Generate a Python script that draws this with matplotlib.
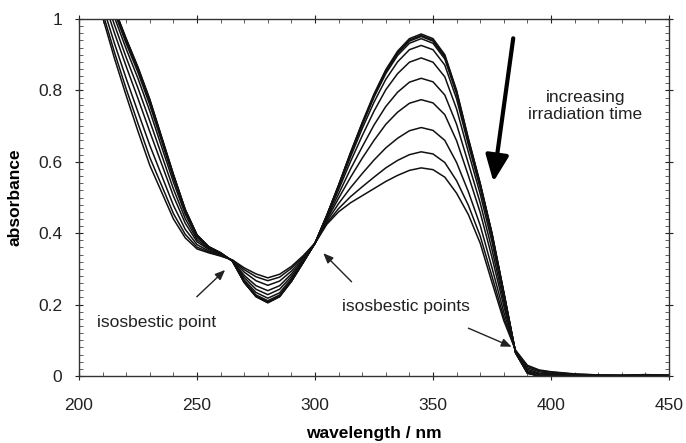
import matplotlib
matplotlib.use("Agg")
import matplotlib.pyplot as plt
from matplotlib.ticker import MultipleLocator, FuncFormatter

plt.rcParams['font.family'] = ['Liberation Sans', 'DejaVu Sans']

wavelength = [205, 210, 215, 220, 225, 230, 235, 240, 245, 250, 255, 260, 265, 270, 275,
              280, 285, 290, 295, 300, 305, 310, 315, 320, 325, 330, 335, 340, 345, 350,
              355, 360, 365, 370, 375, 380, 385, 390, 395, 400, 410, 420, 430, 440, 450]

# absorbance spectra, one list per irradiation time (0 = before irradiation)
spec_00 = [1.200, 1.115, 1.030, 0.945, 0.865, 0.775, 0.670, 0.565, 0.467, 0.395, 0.362, 0.345, 0.322, 0.262, 0.222,
           0.205, 0.222, 0.265, 0.318, 0.372, 0.450, 0.535, 0.625, 0.710, 0.790, 0.858, 0.910, 0.945, 0.958, 0.945,
           0.900, 0.800, 0.665, 0.540, 0.400, 0.235, 0.065, 0.008, 0.000, 0.000, 0.000, 0.000, 0.000, 0.001, 0.000]
spec_01 = [1.199, 1.114, 1.029, 0.943, 0.863, 0.773, 0.668, 0.564, 0.466, 0.395, 0.362, 0.345, 0.322, 0.262, 0.223,
           0.206, 0.223, 0.265, 0.318, 0.372, 0.450, 0.534, 0.624, 0.708, 0.787, 0.855, 0.907, 0.941, 0.954, 0.941,
           0.897, 0.797, 0.663, 0.538, 0.399, 0.234, 0.065, 0.008, 0.000, 0.000, 0.000, 0.000, 0.000, 0.001, 0.000]
spec_02 = [1.198, 1.113, 1.027, 0.942, 0.861, 0.771, 0.667, 0.563, 0.465, 0.394, 0.362, 0.345, 0.322, 0.263, 0.223,
           0.206, 0.223, 0.266, 0.318, 0.372, 0.450, 0.534, 0.622, 0.706, 0.785, 0.852, 0.903, 0.938, 0.951, 0.938,
           0.893, 0.794, 0.661, 0.537, 0.397, 0.233, 0.065, 0.008, 0.000, 0.000, 0.000, 0.000, 0.000, 0.001, 0.000]
spec_03 = [1.197, 1.111, 1.025, 0.939, 0.859, 0.769, 0.665, 0.561, 0.464, 0.394, 0.361, 0.345, 0.322, 0.263, 0.224,
           0.207, 0.224, 0.266, 0.319, 0.372, 0.449, 0.532, 0.620, 0.703, 0.781, 0.847, 0.898, 0.932, 0.945, 0.932,
           0.888, 0.790, 0.658, 0.534, 0.395, 0.232, 0.065, 0.009, 0.001, 0.000, 0.000, 0.000, 0.000, 0.001, 0.000]
spec_04 = [1.193, 1.106, 1.018, 0.931, 0.850, 0.759, 0.657, 0.554, 0.460, 0.392, 0.361, 0.344, 0.322, 0.265, 0.227,
           0.211, 0.227, 0.269, 0.320, 0.372, 0.448, 0.529, 0.613, 0.693, 0.767, 0.831, 0.880, 0.914, 0.926, 0.914,
           0.871, 0.776, 0.647, 0.526, 0.388, 0.228, 0.066, 0.010, 0.001, 0.001, 0.000, 0.000, 0.000, 0.001, 0.000]
spec_05 = [1.186, 1.095, 1.005, 0.916, 0.833, 0.742, 0.642, 0.543, 0.453, 0.388, 0.359, 0.343, 0.323, 0.269, 0.234,
           0.218, 0.233, 0.273, 0.321, 0.372, 0.446, 0.522, 0.600, 0.673, 0.742, 0.802, 0.847, 0.879, 0.891, 0.879,
           0.838, 0.748, 0.627, 0.510, 0.375, 0.221, 0.066, 0.012, 0.003, 0.002, 0.001, 0.000, 0.000, 0.001, 0.001]
spec_06 = [1.174, 1.079, 0.984, 0.892, 0.806, 0.714, 0.619, 0.524, 0.441, 0.382, 0.356, 0.342, 0.323, 0.276, 0.243,
           0.228, 0.243, 0.279, 0.324, 0.372, 0.442, 0.510, 0.579, 0.642, 0.703, 0.755, 0.795, 0.823, 0.834, 0.824,
           0.787, 0.705, 0.595, 0.485, 0.354, 0.209, 0.067, 0.015, 0.006, 0.004, 0.002, 0.001, 0.001, 0.002, 0.001]
spec_07 = [1.161, 1.061, 0.961, 0.867, 0.777, 0.684, 0.594, 0.504, 0.428, 0.376, 0.354, 0.341, 0.323, 0.282, 0.253,
           0.239, 0.253, 0.286, 0.327, 0.372, 0.438, 0.498, 0.556, 0.610, 0.660, 0.705, 0.739, 0.764, 0.774, 0.765,
           0.732, 0.659, 0.561, 0.458, 0.332, 0.196, 0.068, 0.019, 0.008, 0.006, 0.003, 0.001, 0.001, 0.002, 0.001]
spec_08 = [1.144, 1.038, 0.932, 0.833, 0.739, 0.646, 0.562, 0.478, 0.411, 0.368, 0.350, 0.339, 0.324, 0.291, 0.267,
           0.254, 0.266, 0.294, 0.331, 0.372, 0.433, 0.483, 0.527, 0.567, 0.605, 0.639, 0.666, 0.687, 0.696, 0.688,
           0.660, 0.598, 0.516, 0.422, 0.303, 0.179, 0.070, 0.023, 0.012, 0.008, 0.004, 0.002, 0.002, 0.003, 0.002]
spec_09 = [1.130, 1.018, 0.907, 0.804, 0.707, 0.612, 0.534, 0.455, 0.397, 0.361, 0.347, 0.337, 0.325, 0.298, 0.278,
           0.267, 0.277, 0.302, 0.335, 0.372, 0.428, 0.469, 0.502, 0.530, 0.557, 0.583, 0.604, 0.620, 0.628, 0.622,
           0.598, 0.547, 0.478, 0.392, 0.279, 0.165, 0.071, 0.027, 0.015, 0.011, 0.005, 0.003, 0.002, 0.003, 0.002]
spec_10 = [1.120, 1.005, 0.890, 0.785, 0.685, 0.590, 0.515, 0.440, 0.387, 0.356, 0.345, 0.336, 0.325, 0.303, 0.286,
           0.275, 0.285, 0.307, 0.337, 0.372, 0.425, 0.460, 0.485, 0.505, 0.525, 0.545, 0.562, 0.576, 0.583, 0.578,
           0.557, 0.512, 0.452, 0.372, 0.262, 0.155, 0.072, 0.030, 0.017, 0.012, 0.006, 0.003, 0.002, 0.004, 0.002]

spectra = [spec_00, spec_01, spec_02, spec_03, spec_04, spec_05,
           spec_06, spec_07, spec_08, spec_09, spec_10]

x_ticks = [200, 250, 300, 350, 400, 450]
y_ticks = [0, 0.2, 0.4, 0.6, 0.8, 1.0]

fig = plt.figure(figsize=(6.86, 4.43), dpi=100)
ax = fig.add_axes([0.1152, 0.1512, 0.8600, 0.8059])

for s in spectra:
    ax.plot(wavelength, s, color='#111111', lw=1.1, solid_joinstyle='round')

ax.set_xlim(200, 450)
ax.set_ylim(0, 1)
ax.set_xticks(x_ticks)
ax.set_yticks(y_ticks)
ax.xaxis.set_minor_locator(MultipleLocator(10))
ax.yaxis.set_minor_locator(MultipleLocator(0.02))
ax.yaxis.set_major_formatter(FuncFormatter(lambda v, p: f"{v:g}"))
ax.tick_params(which='major', direction='inout', length=6, width=0.8,
               top=True, right=True, labelsize=12.5, colors='#222222')
ax.tick_params(axis='x', which='major', pad=13)
ax.tick_params(axis='y', which='major', pad=9)
ax.tick_params(which='minor', direction='in', length=3, width=0.6,
               top=True, right=True, colors='#444444')
for sp in ax.spines.values():
    sp.set_linewidth(1.0)
    sp.set_color('#333333')

ax.set_xlabel('wavelength / nm', fontsize=12.5, fontweight='bold', labelpad=9)
ax.set_ylabel('absorbance', fontsize=12.5, fontweight='bold', labelpad=11)

# big arrow
ax.annotate('', xy=(375.6, 0.544), xytext=(384.0, 0.946),
            arrowprops=dict(arrowstyle='-|>,head_length=1.6,head_width=0.7',
                            lw=3.0, color='black', shrinkA=0, shrinkB=0))
ax.text(414.5, 0.756, 'increasing\nirradiation time', ha='center', va='center',
        fontsize=12.5, linespacing=1.2, color='#222222')

thin = dict(arrowstyle='-|>,head_length=0.6,head_width=0.25', lw=1.0,
            color='#222222', shrinkA=0, shrinkB=0)
ax.annotate('', xy=(261.9, 0.297), xytext=(249.9, 0.222), arrowprops=thin)
ax.annotate('', xy=(303.5, 0.344), xytext=(315.5, 0.264), arrowprops=thin)
ax.annotate('', xy=(383.3, 0.082), xytext=(365.0, 0.134), arrowprops=thin)

ax.text(207.5, 0.150, 'isosbestic point', ha='left', va='center', fontsize=12.5, color='#222222')
ax.text(311.5, 0.194, 'isosbestic points', ha='left', va='center', fontsize=12.5, color='#222222')

fig.savefig('out.png', dpi=100)
